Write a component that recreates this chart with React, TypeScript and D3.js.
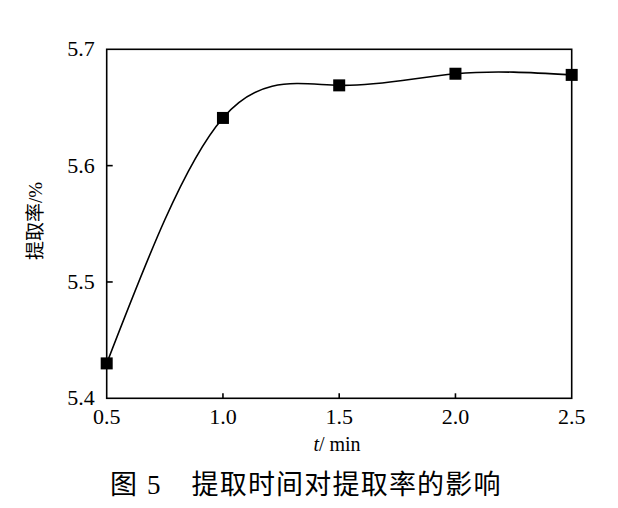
import React from "react";
import * as d3 from "d3";

const times = [0.5, 1.0, 1.5, 2.0, 2.5];
const rates = [5.43, 5.641, 5.669, 5.679, 5.678];
const xTicks = [0.5, 1.0, 1.5, 2.0, 2.5];
const yTicks = [5.4, 5.5, 5.6, 5.7];

export default function App() {
  const W = 618, H = 508;
  const L = 106.7, R = 571.7, T = 49.3, B = 398.3;
  const x = d3.scaleLinear().domain([0.5, 2.5]).range([L, R]);
  const y = d3.scaleLinear().domain([5.4, 5.7]).range([B, T]);
  const pts = times.map((t, i) => [x(t), y(rates[i])] as [number, number]);
  const line = d3.line().curve(d3.curveNatural)(pts) || "";
  const serif = "'Liberation Serif', 'DejaVu Serif', serif";
  const cjk = "'Noto Sans CJK SC', sans-serif";
  const ms = 12;
  return (
    <svg width={W} height={H} style={{ position: "absolute", left: 0, top: 0, background: "#fff" }}>
      <rect x={0} y={0} width={W} height={H} fill="#fff" />
      <defs>
        <clipPath id="pc">
          <rect x={L} y={T} width={R - L} height={B - T} />
        </clipPath>
      </defs>
      <path d={line} fill="none" stroke="#000" strokeWidth={1.6} clipPath="url(#pc)" />
      <rect x={L} y={T} width={R - L} height={B - T} fill="none" stroke="#000" strokeWidth={1.6} />
      {xTicks.slice(1, -1).map((t) => (
        <line key={t} x1={x(t)} x2={x(t)} y1={B} y2={B - 5} stroke="#000" strokeWidth={1.6} />
      ))}
      {yTicks.slice(1, -1).map((t) => (
        <line key={t} x1={L} x2={L + 6} y1={y(t)} y2={y(t)} stroke="#000" strokeWidth={1.6} />
      ))}
      {xTicks.map((t) => (
        <text key={t} x={x(t)} y={B + 26} textAnchor="middle" fontFamily={serif} fontSize={22} fill="#000">
          {t.toFixed(1)}
        </text>
      ))}
      {yTicks.map((t) => (
        <text key={t} x={L - 12} y={y(t) + 7} textAnchor="end" fontFamily={serif} fontSize={22} fill="#000">
          {t.toFixed(1)}
        </text>
      ))}
      {pts.map(([px, py], i) => (
        <rect key={i} x={px - ms / 2} y={py - ms / 2} width={ms} height={ms} fill="#000" />
      ))}
      <text x={337} y={451} textAnchor="middle" fontFamily={serif} fontSize={20} fill="#000">
        <tspan fontStyle="italic">t</tspan>
        <tspan>/ min</tspan>
      </text>
      <text transform={`translate(42, 221) rotate(-90)`} textAnchor="middle" fontSize={19} fill="#000">
        <tspan fontFamily={cjk}>提取率</tspan>
        <tspan fontFamily={serif}>/%</tspan>
      </text>
      <text x={110} y={494} fontFamily={cjk} fontSize={27} fill="#000">
        <tspan>图</tspan>
        <tspan fontFamily={serif} dx={10}>5</tspan>
        <tspan dx={31} letterSpacing={1.2}>提取时间对提取率的影响</tspan>
      </text>
    </svg>
  );
}
